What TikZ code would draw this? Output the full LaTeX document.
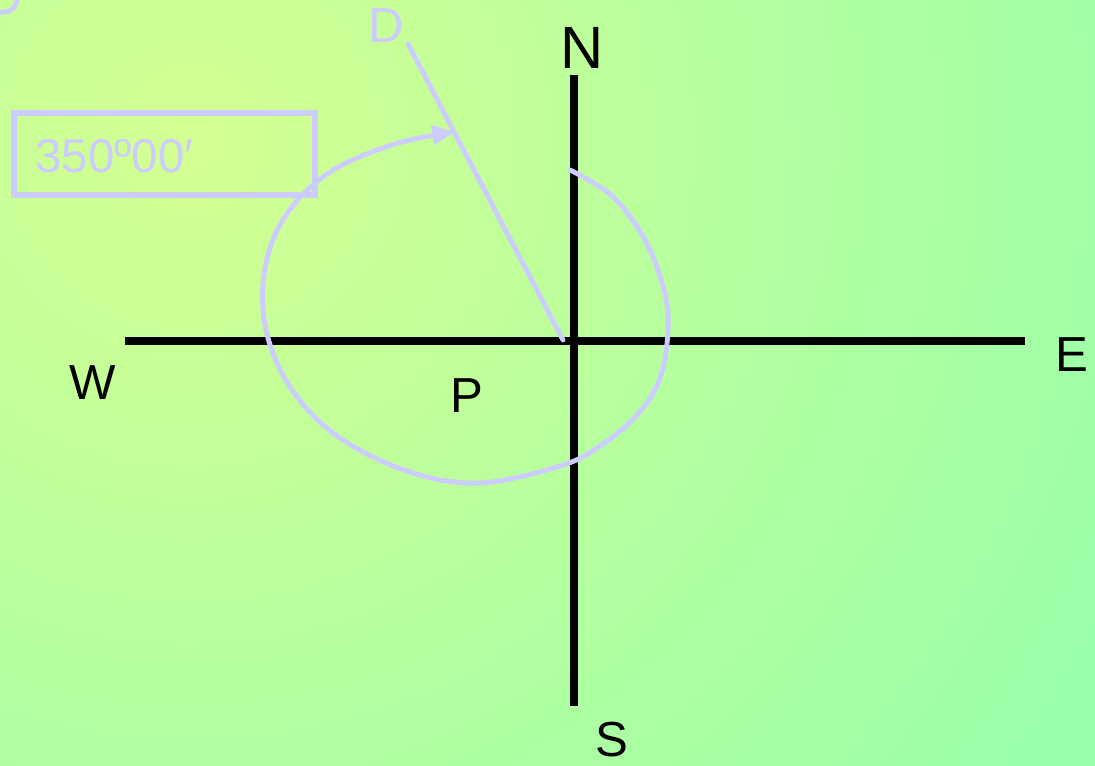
\documentclass[tikz,border=0pt]{standalone}
\usepackage{fontspec}
\setmainfont{Liberation Sans}
\usetikzlibrary{arrows.meta}
\definecolor{bgin}{RGB}{212,255,146}
\definecolor{bgout}{RGB}{153,255,170}
\definecolor{lav}{RGB}{204,204,255}
\tikzset{axis/.style={line width=4pt},
  pen/.style={draw=lav, line width=2.8pt, line cap=round},
  lbl/.style={font=\fontsize{28}{30}\selectfont, inner sep=0pt}}

\begin{document}
\begin{tikzpicture}[x=0.02cm,y=-0.02cm]
\useasboundingbox (0,0) rectangle (1095,766);
\begin{scope}
  \clip (0,0) rectangle (1095,766);
  \fill[bgout] (0,0) rectangle (1095,766);
  \shade[inner color=bgin, outer color=bgout] (190,140) circle (1050);
\end{scope}

% compass axes
\coordinate (wend) at (125,341);
\coordinate (eend) at (1025,341);
\coordinate (nend) at (574,75);
\coordinate (send) at (574,706);
\draw[axis] (wend) -- (eend);
\draw[axis] (nend) -- (send);

\node[lbl, font=\fontsize{34}{36}\selectfont] (N) at (582,48) {N};
\node[lbl] (E) at (1072,355) {E};
\node[lbl] (W) at (93,383) {W};
\node[lbl] (S) at (612,740) {S};
\node[lbl] (P) at (467,396) {P};

% bearing
\node[lbl, text=lav] (D) at (386,26) {D};
\coordinate (dtop) at (408,44);
\coordinate (dfoot) at (563,340);
\draw[pen] (dtop) -- (dfoot);
\draw[pen, -{Triangle[length=13pt,width=11pt]}] plot[smooth, tension=0.6] coordinates {
  (570,170) (612,196) (645,240) (664,290) (668,330) (660,378) (638,414)
  (600,446) (560,466) (480,483) (410,472) (340,438) (292,390) (266,330)
  (265,268) (286,215) (330,172) (395,144) (455,132)};

% angle box
\draw[draw=lav, line width=3pt] (14,113) rectangle (315,195);
\node[lbl, text=lav, font=\fontsize{27}{29}\selectfont, anchor=west] (ang) at (35,156) {350º00′};

\draw[pen] (17,-2) .. controls (17,10) and (8,13) .. (0,12);
\end{tikzpicture}
\end{document}
